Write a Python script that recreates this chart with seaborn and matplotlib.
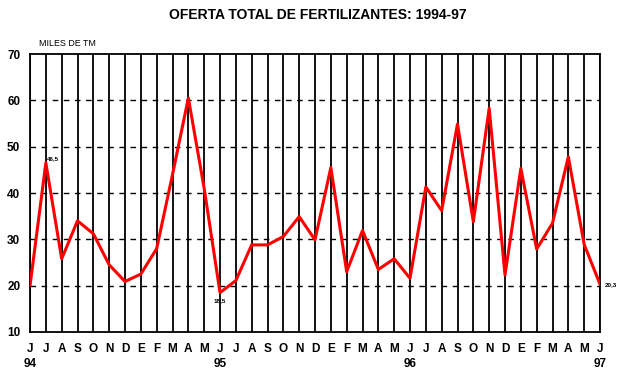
import matplotlib
matplotlib.use("Agg")
import matplotlib.pyplot as plt
import seaborn as sns
import pandas as pd

# months jun-1994 .. jun-1997 (spanish initials)
months = ["J", "J", "A", "S", "O", "N", "D", "E", "F", "M", "A", "M",
          "J", "J", "A", "S", "O", "N", "D", "E", "F", "M", "A", "M",
          "J", "J", "A", "S", "O", "N", "D", "E", "F", "M", "A", "M",
          "J"]
years = {0: "94", 12: "95", 24: "96", 36: "97"}

# miles de TM
oferta = [20.0, 46.5, 25.8, 34.0, 31.2, 24.5, 20.9, 22.5, 28.0, 44.0, 60.5, 41.0,
          18.5, 21.1, 28.8, 28.8, 30.6, 34.9, 29.9, 45.5, 23.0, 31.9, 23.5, 25.8,
          21.6, 41.3, 36.2, 54.9, 33.8, 58.3, 22.3, 45.3, 27.9, 33.5, 47.8, 28.9,
          20.3]

# labelled points: index -> text
etiquetas = {1: "46,5", 12: "18,5", 36: "20,3"}

df = pd.DataFrame({"mes": range(len(oferta)), "valor": oferta})

sns.set_style("white")
plt.rcParams["font.family"] = ["Liberation Sans", "DejaVu Sans"]
plt.rcParams["text.color"] = "black"
plt.rcParams["xtick.color"] = "black"
plt.rcParams["ytick.color"] = "black"

fig = plt.figure(figsize=(6.36, 3.85), dpi=100)
ax = fig.add_axes([0.0472, 0.1377, 0.8962, 0.722])

# vertical grid at every month, dashed horizontal grid
for i in df["mes"]:
    ax.axvline(i, color="black", lw=1.3, zorder=1)
for v in range(20, 70, 10):
    ax.axhline(v, color="black", lw=1.0, ls=(0, (4, 4)), zorder=1)

sns.lineplot(data=df, x="mes", y="valor", color="#ff0000", lw=2.2, ax=ax, zorder=3)

for i, txt in etiquetas.items():
    if i == 1:
        ax.text(i + 0.05, oferta[i] + 0.3, txt, fontsize=4.5, fontweight="bold", ha="left", va="bottom")
    elif i == 12:
        ax.text(i, oferta[i] - 1.2, txt, fontsize=4.5, fontweight="bold", ha="center", va="top")
    else:
        ax.text(i + 0.3, oferta[i], txt, fontsize=4.5, fontweight="bold", ha="left", va="center",
                clip_on=False)

ax.set_xlim(0, len(oferta) - 1)
ax.set_ylim(10, 70)
ax.set_yticks(range(10, 80, 10))
ax.set_yticklabels([str(v) for v in range(10, 80, 10)], fontsize=8.5, fontweight="bold")
ax.set_xticks(range(len(months)))
ax.set_xticklabels([m + ("\n" + years[i] if i in years else "\n") for i, m in enumerate(months)],
                   fontsize=8.5, fontweight="bold", linespacing=1.35)
ax.tick_params(axis="x", length=0, pad=8)
ax.tick_params(axis="y", length=0, pad=7)
ax.set_xlabel("")
ax.set_ylabel("")
for s in ax.spines.values():
    s.set_color("black")
    s.set_linewidth(1.3)

fig.text(0.50, 0.961, "OFERTA TOTAL DE FERTILIZANTES: 1994-97", ha="center", va="center",
         fontsize=10, fontweight="bold")
fig.text(0.062, 0.888, "MILES DE TM", ha="left", va="center", fontsize=6.4)

fig.savefig("out.png", dpi=100)
